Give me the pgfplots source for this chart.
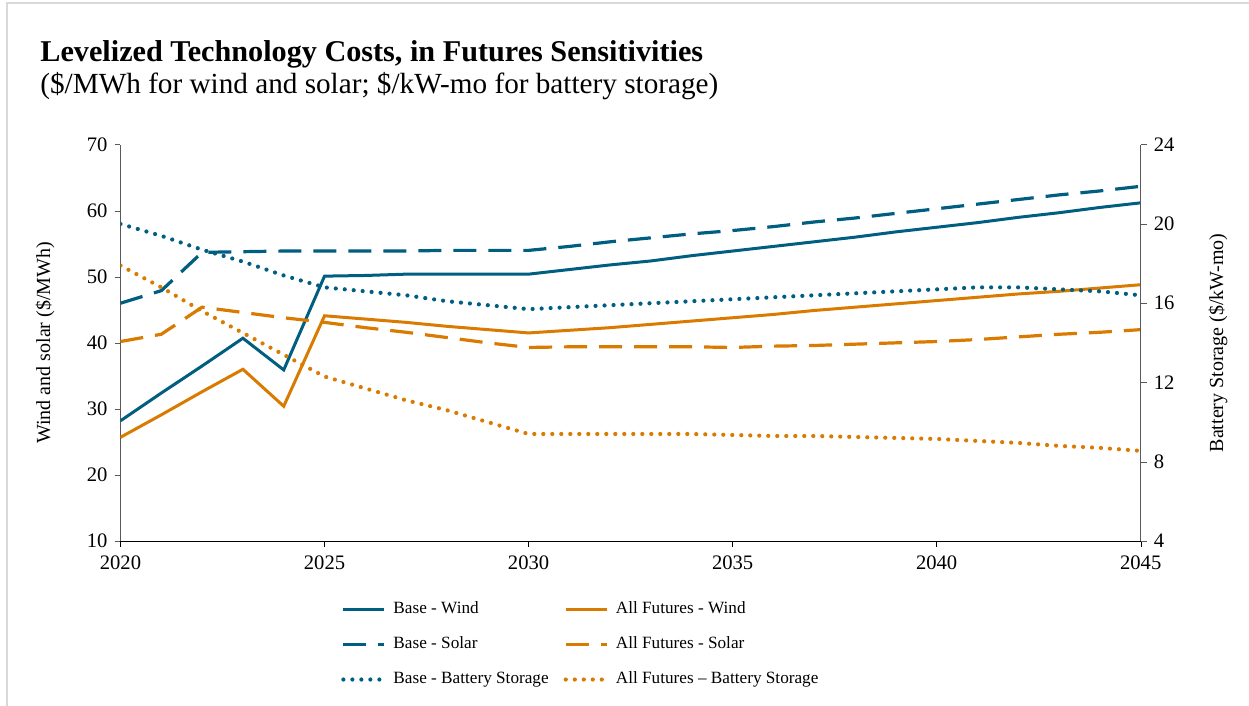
\documentclass[border=0pt]{standalone}
\usepackage{fontspec}
\setmainfont{Liberation Serif}
\usepackage{pgfplots}
\pgfplotsset{compat=1.18}
\definecolor{cblue}{HTML}{005E80}
\definecolor{corange}{HTML}{D97B00}
\definecolor{frame}{HTML}{D9D9D9}
\begin{document}
\begin{tikzpicture}
\begin{scope}[x=0.5pt,y=0.5pt]
\path[use as bounding box] (0,0) rectangle (1249,706);
\draw[frame,line width=1.2pt] (7,0) -- (7,703) -- (1249,703);
\node[anchor=base west,inner sep=0pt,font=\fontsize{15.1}{18}\selectfont\bfseries] at (40,706-62) {Levelized Technology Costs, in Futures Sensitivities};
\node[anchor=base west,inner sep=0pt,font=\fontsize{14.6}{17}\selectfont] at (40,706-94) {(\$/MWh for wind and solar; \$/kW-mo for battery storage)};
\end{scope}
\pgfplotsset{
  every axis/.append style={
    scale only axis, width=510.1pt, height=198.15pt,
    xmin=2020, xmax=2045,
    tick align=outside, major tick length=3pt,
    /pgf/number format/assume math mode=true,
    /pgf/number format/1000 sep={},
    xticklabel={\pgfmathprintnumber{\tick}},
    yticklabel={\pgfmathprintnumber{\tick}},
    tick label style={font=\rmfamily\fontsize{10.3}{12}\selectfont},
    label style={font=\fontsize{10.7}{12}\selectfont},
  },
  sline/.style={line width=1.5pt},
  dline/.style={line width=1.6pt, dash pattern=on 11.5pt off 6pt},
  pline/.style={line width=2.1pt, line cap=round, dash pattern=on 0pt off 4.5pt},
}
\begin{axis}[
  at={(60.25pt,82.5pt)}, anchor=south west,
  ymin=10, ymax=70, ytick={10,20,...,70},
  xtick={2020,2025,...,2045},
  axis x line*=bottom, axis y line*=left,
  x axis line style={black,-}, y axis line style={black!65,-},
  xtick style={black}, ytick style={black!65},
  xticklabel style={yshift=-1pt},
  ylabel={Wind and solar (\$/MWh)},
  every axis y label/.style={at={(axis description cs:-0.074,0.5)}, rotate=90, anchor=center},
  legend columns=2,
  legend cell align=left,
  legend style={at={(axis description cs:0.216,-0.15)}, anchor=north west, draw=none, inner sep=0pt,
    font=\fontsize{8.6}{10}\selectfont,
    nodes={inner sep=0pt, text height=6.3pt, text depth=2pt},
    column sep=3.5pt, row sep=9.3pt,
    /tikz/every even column/.append style={column sep=7.5pt}},
  legend image code/.code={\draw[#1] (0pt,0pt) -- (20.5pt,0pt);},
]
\addplot[cblue, sline] coordinates {(2020,28.2)(2021,32.4)(2022,36.5)(2023,40.7)(2024,35.9)(2025,50.1)(2026,50.2)(2027,50.4)(2028,50.4)(2029,50.4)(2030,50.4)(2031,51.1)(2032,51.8)(2033,52.4)(2034,53.2)(2035,53.9)(2036,54.6)(2037,55.3)(2038,56.0)(2039,56.8)(2040,57.5)(2041,58.2)(2042,59.0)(2043,59.7)(2044,60.5)(2045,61.2)};
\addlegendentry{Base - Wind}
\addplot[corange, sline] coordinates {(2020,25.7)(2021,29.1)(2022,32.6)(2023,36.0)(2024,30.4)(2025,44.1)(2026,43.6)(2027,43.1)(2028,42.5)(2029,42.0)(2030,41.5)(2031,41.9)(2032,42.3)(2033,42.8)(2034,43.3)(2035,43.8)(2036,44.3)(2037,44.9)(2038,45.4)(2039,45.9)(2040,46.4)(2041,46.9)(2042,47.4)(2043,47.8)(2044,48.3)(2045,48.8)};
\addlegendentry{All Futures - Wind}
\addplot[cblue, dline] coordinates {(2020,46.0)(2021,47.9)(2022,53.7)(2023,53.8)(2024,53.9)(2025,53.9)(2026,53.9)(2027,53.9)(2028,54.0)(2029,54.0)(2030,54.0)(2031,54.6)(2032,55.3)(2033,55.9)(2034,56.5)(2035,57.0)(2036,57.6)(2037,58.3)(2038,58.9)(2039,59.6)(2040,60.3)(2041,61.0)(2042,61.7)(2043,62.4)(2044,63.0)(2045,63.7)};
\addlegendentry{Base - Solar}
\addplot[corange, dline] coordinates {(2020,40.2)(2021,41.3)(2022,45.4)(2023,44.6)(2024,43.8)(2025,43.1)(2026,42.3)(2027,41.6)(2028,40.8)(2029,40.0)(2030,39.3)(2031,39.4)(2032,39.4)(2033,39.4)(2034,39.4)(2035,39.3)(2036,39.5)(2037,39.6)(2038,39.8)(2039,40.0)(2040,40.2)(2041,40.5)(2042,40.9)(2043,41.3)(2044,41.6)(2045,42.0)};
\addlegendentry{All Futures - Solar}
\addlegendimage{cblue, pline}
\addlegendentry{Base - Battery Storage}
\addlegendimage{corange, pline}
\addlegendentry{All Futures -- Battery Storage}
\end{axis}
\begin{axis}[
  at={(60.25pt,82.5pt)}, anchor=south west,
  ymin=4, ymax=24, ytick={4,8,...,24},
  axis x line=none, axis y line*=right,
  y axis line style={black!65,-}, ytick style={black!65},
  ylabel={Battery Storage (\$/kW-mo)},
  every axis y label/.style={at={(axis description cs:1.0758,0.5)}, rotate=90, anchor=center},
]
\addplot[cblue, pline] coordinates {(2020,20.0)(2021,19.4)(2022,18.7)(2023,18.1)(2024,17.4)(2025,16.8)(2026,16.6)(2027,16.4)(2028,16.1)(2029,15.9)(2030,15.7)(2031,15.8)(2032,15.9)(2033,16.0)(2034,16.1)(2035,16.2)(2036,16.3)(2037,16.4)(2038,16.5)(2039,16.6)(2040,16.7)(2041,16.8)(2042,16.8)(2043,16.7)(2044,16.6)(2045,16.4)};
\addplot[corange, pline] coordinates {(2020,17.9)(2021,16.8)(2022,15.6)(2023,14.5)(2024,13.4)(2025,12.3)(2026,11.7)(2027,11.1)(2028,10.6)(2029,10.0)(2030,9.4)(2031,9.4)(2032,9.4)(2033,9.4)(2034,9.4)(2035,9.35)(2036,9.3)(2037,9.3)(2038,9.25)(2039,9.2)(2040,9.15)(2041,9.05)(2042,8.95)(2043,8.8)(2044,8.7)(2045,8.55)};
\end{axis}
\end{tikzpicture}
\end{document}
